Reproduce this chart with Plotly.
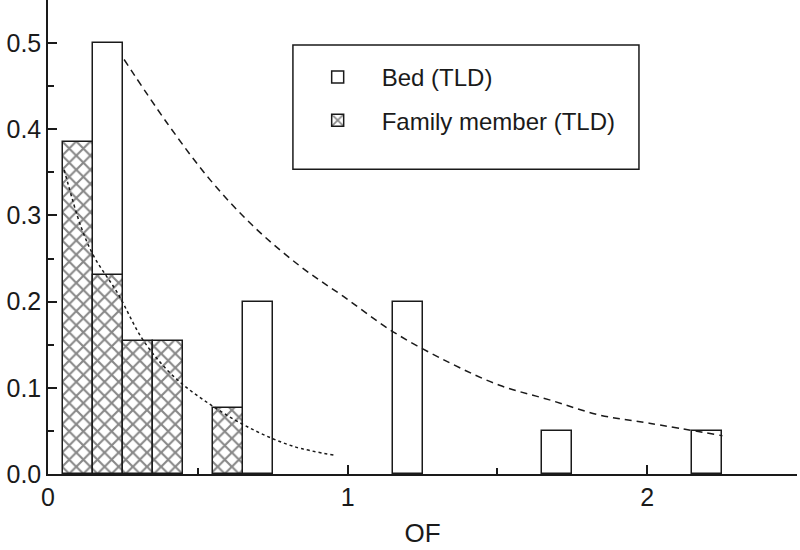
import plotly.graph_objects as go

# Histogram data (bin centres, relative frequency)
bed_x = [0.2, 0.7, 1.2, 1.7, 2.2]
bed_y = [0.5, 0.2, 0.2, 0.05, 0.05]
fam_x = [0.1, 0.2, 0.3, 0.4, 0.6]
fam_y = [0.385, 0.231, 0.154, 0.154, 0.077]
bin_width = 0.1

# Fitted curves
bed_fit_x = [0.254, 0.398, 0.542, 0.687, 0.842, 0.986, 1.152, 1.341, 1.507, 1.674, 1.840, 2.007, 2.251]
bed_fit_y = [0.481, 0.407, 0.341, 0.287, 0.241, 0.206, 0.165, 0.129, 0.103, 0.086, 0.0685, 0.0589, 0.0445]
fam_fit_x = [0.054, 0.11, 0.154, 0.232, 0.32, 0.42, 0.553, 0.687, 0.82, 0.953]
fam_fit_y = [0.353, 0.287, 0.252, 0.21, 0.154, 0.113, 0.078, 0.051, 0.032, 0.022]

FONT = "Liberation Sans, Arial, sans-serif"
INK = "#1a1a1a"

fig = go.Figure()
fig.add_trace(go.Bar(
    x=bed_x, y=bed_y, width=bin_width, name="Bed (TLD)", legendgroup="a",
    marker=dict(color="white", line=dict(color=INK, width=1.5)),
))
fig.add_trace(go.Bar(
    x=fam_x, y=fam_y, width=bin_width, name="Family member (TLD)", legendgroup="b",
    marker=dict(color="white", line=dict(color=INK, width=1.5),
                pattern=dict(shape="x", fgcolor="#111", bgcolor="white", size=10, solidity=0.38)),
))
fig.add_trace(go.Scatter(
    x=bed_fit_x, y=bed_fit_y, mode="lines", line_shape="spline", showlegend=False,
    line=dict(color=INK, width=1.5, dash="7px,5px"),
))
fig.add_trace(go.Scatter(
    x=fam_fit_x, y=fam_fit_y, mode="lines", line_shape="spline", showlegend=False,
    line=dict(color=INK, width=1.5, dash="3px,3px"),
))

# legend frame (decoration, paper coordinates)
fig.add_shape(type="rect", xref="paper", yref="paper",
              x0=0.327, x1=0.789, y0=0.643, y1=0.905,
              fillcolor="white", line=dict(color=INK, width=1.5), layer="above")

fig.update_layout(
    width=800, height=550,
    margin=dict(l=48, r=3, t=0, b=76),
    paper_bgcolor="white", plot_bgcolor="white",
    barmode="overlay", bargap=0,
    font=dict(family=FONT, size=24, color=INK),
    showlegend=True,
    legend=dict(
        x=0.328, y=0.884, xanchor="left", yanchor="top",
        bgcolor="rgba(0,0,0,0)", borderwidth=0,
        font=dict(size=24), traceorder="grouped", tracegroupgap=9,
        itemwidth=78,
    ),
    xaxis=dict(
        range=[0, 2.5], showgrid=False, zeroline=False, automargin=False,
        showline=True, linecolor=INK, linewidth=1.5,
        ticks="inside", ticklen=9, tickwidth=1.5, tickcolor=INK,
        tickvals=[0, 1, 2], ticktext=["0", "1", "2"],
        minor=dict(tickvals=[0.5, 1.5, 2.5], ticks="inside", ticklen=6, tickwidth=1.5, tickcolor=INK),
        title=dict(text="OF", font=dict(size=26), standoff=14),
        tickfont=dict(size=25),
    ),
    yaxis=dict(
        range=[0, 0.55], showgrid=False, zeroline=False, automargin=False,
        showline=True, linecolor=INK, linewidth=1.5,
        ticks="inside", ticklen=9, tickwidth=1.5, tickcolor=INK,
        tickvals=[0, 0.1, 0.2, 0.3, 0.4, 0.5], tickformat=".1f",
        minor=dict(tickvals=[0.05, 0.15, 0.25, 0.35, 0.45], ticks="inside", ticklen=6, tickwidth=1.5, tickcolor=INK),
        tickfont=dict(size=25),
    ),
)

fig.write_html("out.html", config={"displayModeBar": False},
               post_script="document.body.style.margin='0';")
